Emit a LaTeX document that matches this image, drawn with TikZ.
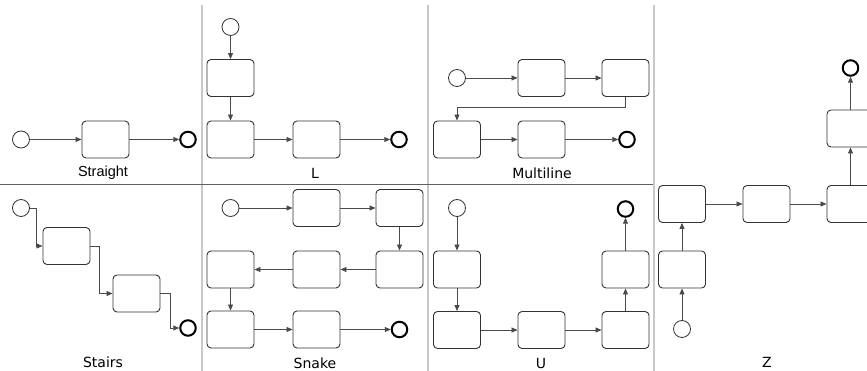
\documentclass[tikz,border=0pt]{standalone}
\usepackage{fontspec}
\setmainfont{DejaVu Sans}
\newfontfamily\arialfont{Liberation Sans}
\usetikzlibrary{arrows.meta}
\definecolor{flowc}{HTML}{4A4A4A}
\definecolor{boxc}{HTML}{333333}
\definecolor{divv}{HTML}{C8C8C8}
\definecolor{divh}{HTML}{606060}
\tikzset{
  task/.style={draw=boxc, rounded corners=4pt, minimum width=47pt, minimum height=37pt, line width=0.9pt, inner sep=0pt},
  startev/.style={circle, draw=boxc, minimum size=17pt, inner sep=0pt, line width=0.8pt},
  endev/.style={circle, draw=black, minimum size=15.5pt, inner sep=0pt, line width=2pt},
  flow/.style={draw=flowc, line width=0.8pt, -{Triangle[length=6pt,width=5pt]}},
  divver/.style={draw=divv, line width=2pt},
  divhor/.style={draw=divh, line width=0.9pt},
  lbl/.style={font=\fontsize{14}{16}\selectfont, inner sep=0pt}
}
\begin{document}
\begin{tikzpicture}[x=1pt,y=-1pt]
\useasboundingbox (0,0) rectangle (867,371);
% dividers
\coordinate (v1t) at (202,5); \coordinate (v1b) at (202,371);
\coordinate (v2t) at (428,5); \coordinate (v2b) at (428,371);
\coordinate (v3t) at (654,5); \coordinate (v3b) at (654,371);
\coordinate (hl) at (0,184); \coordinate (hr) at (653,184);
\draw[divver] (v1t) -- (v1b);
\draw[divver] (v2t) -- (v2b);
\draw[divver] (v3t) -- (v3b);
\draw[divhor] (hl) -- (hr);

% Straight
\node[startev] (s0) at (21,139.5) {};
\node[task] (s1) at (105.5,139.5) {};
\node[endev] (s2) at (188,139.5) {};
\draw[flow] (s0) -- (s1);
\draw[flow] (s1) -- (s2);
\node[lbl, font=\arialfont\fontsize{14.5}{16}\selectfont] (ls) at (103,173) {Straight};

% L
\node[startev] (l0) at (230.5,27) {};
\node[task] (l1) at (230.5,78) {};
\node[task] (l2) at (230.5,139.5) {};
\node[task] (l3) at (316.5,139.5) {};
\node[endev] (l4) at (399,139.5) {};
\draw[flow] (l0) -- (l1);
\draw[flow] (l1) -- (l2);
\draw[flow] (l2) -- (l3);
\draw[flow] (l3) -- (l4);
\node[lbl] (ll) at (315,173) {L};

% Multiline
\node[startev] (m0) at (457,78) {};
\node[task] (m1) at (541.5,78) {};
\node[task] (m2) at (625.5,78) {};
\node[task] (m3) at (457,139.5) {};
\node[task] (m4) at (541.5,139.5) {};
\node[endev] (m5) at (627,139.5) {};
\draw[flow] (m0) -- (m1);
\draw[flow] (m1) -- (m2);
\draw[flow] (m2.south) -- ++(0,10) -| (m3.north);
\draw[flow] (m3) -- (m4);
\draw[flow] (m4) -- (m5);
\node[lbl] (lm) at (542,173) {Multiline};

% Stairs
\node[startev] (t0) at (21,208) {};
\node[task] (t1) at (66.5,246) {};
\node[task] (t2) at (136.5,293.5) {};
\node[endev] (t3) at (188,328) {};
\draw[flow] (t0.east) -- ++(6,0) |- (t1.west);
\draw[flow] (t1.east) -- ++(9,0) |- (t2.west);
\draw[flow] (t2.east) -- ++(10,0) |- (t3.west);
\node[lbl] (lt) at (103,362) {Stairs};

% Snake
\node[startev] (n0) at (230.5,208) {};
\node[task] (n1) at (316.5,208) {};
\node[task] (n2) at (399.5,208) {};
\node[task] (n3) at (399.5,269.5) {};
\node[task] (n4) at (316.5,269.5) {};
\node[task] (n5) at (230.5,269.5) {};
\node[task] (n6) at (230.5,329.5) {};
\node[task] (n7) at (316.5,329.5) {};
\node[endev] (n8) at (399.5,329.5) {};
\draw[flow] (n0) -- (n1);
\draw[flow] (n1) -- (n2);
\draw[flow] (n2) -- (n3);
\draw[flow] (n3) -- (n4);
\draw[flow] (n4) -- (n5);
\draw[flow] (n5) -- (n6);
\draw[flow] (n6) -- (n7);
\draw[flow] (n7) -- (n8);
\node[lbl] (ln) at (315,363) {Snake};

% U
\node[startev] (u0) at (457,208) {};
\node[task] (u1) at (457,269.5) {};
\node[task] (u2) at (457,330) {};
\node[task] (u3) at (541.5,330) {};
\node[task] (u4) at (625.5,330) {};
\node[task] (u5) at (625.5,269.5) {};
\node[endev] (u6) at (625.5,209) {};
\draw[flow] (u0) -- (u1);
\draw[flow] (u1) -- (u2);
\draw[flow] (u2) -- (u3);
\draw[flow] (u3) -- (u4);
\draw[flow] (u4) -- (u5);
\draw[flow] (u5) -- (u6);
\node[lbl] (lu) at (541,363) {U};

% Z
\node[startev] (z0) at (682,329) {};
\node[task] (z1) at (682,269.5) {};
\node[task] (z2) at (682,204) {};
\node[task] (z3) at (766.5,204) {};
\node[task] (z4) at (850.5,204) {};
\node[task] (z5) at (850.5,128.5) {};
\node[endev] (z6) at (850.5,68) {};
\draw[flow] (z0) -- (z1);
\draw[flow] (z1) -- (z2);
\draw[flow] (z2) -- (z3);
\draw[flow] (z3) -- (z4);
\draw[flow] (z4) -- (z5);
\draw[flow] (z5) -- (z6);
\node[lbl] (lz) at (767,362) {Z};
\end{tikzpicture}
\end{document}
